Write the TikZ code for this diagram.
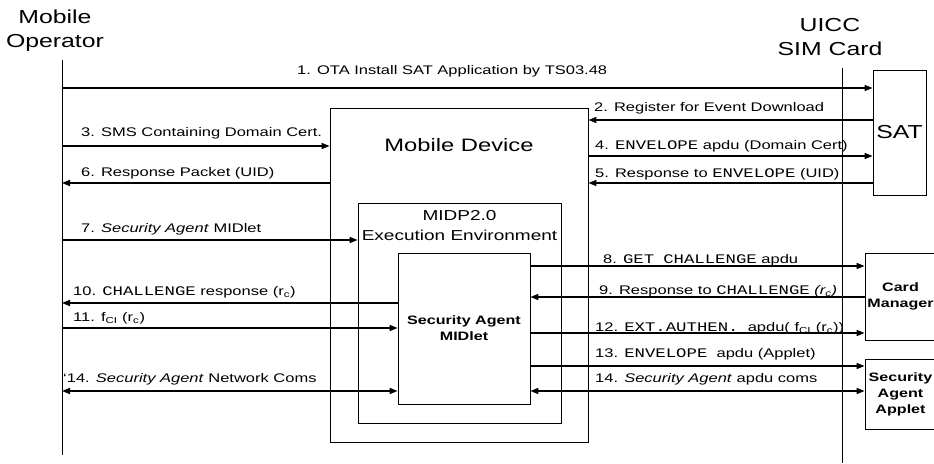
\documentclass[tikz,border=0pt]{standalone}
\usepackage{fontspec}
\setmainfont{Liberation Sans}[FakeStretch=1.32]
\setmonofont{Liberation Mono}[FakeStretch=1.32,Scale=1.05]
\usetikzlibrary{arrows.meta}

\tikzset{
  box/.style={draw,line width=0.8pt,inner sep=0pt},
  lifeline/.style={line width=0.8pt},
  msg/.style={line width=1.5pt,-{Triangle[length=8pt,width=6pt]}},
  duplex/.style={line width=1.5pt,{Triangle[length=8pt,width=6pt]}-{Triangle[length=8pt,width=6pt]}},
  lbl/.style={anchor=west,inner sep=0pt,text height=9pt,text depth=0pt,font=\fontsize{12.5}{15}\selectfont},
  bigtxt/.style={inner sep=0pt,align=center,font=\fontsize{18.8}{24}\selectfont},
  boldtxt/.style={align=center,font=\fontsize{12.2}{16}\selectfont\bfseries}
}

\begin{document}
\begin{tikzpicture}[x=1pt,y=-1pt]
\useasboundingbox (0,0) rectangle (934,463);

% the two ends of the link
\node[bigtxt] (op) at (55,31) {Mobile\\Operator};
\node[bigtxt] (uicc) at (830,37.5) {UICC\\SIM Card};
\coordinate (opl) at (62,60);
\coordinate (opend) at (62,455);
\coordinate (siml) at (842,68);
\coordinate (simend) at (842,463);
\draw[lifeline] (opl) -- (opend);
\draw[lifeline] (siml) -- (simend);

% handset, nested
\node[box,minimum width=258pt,minimum height=334pt] (dev) at (459,275) {};
\node[font=\fontsize{18}{22}\selectfont] (devlbl) at (459,145) {Mobile Device};
\node[box,minimum width=203pt,minimum height=220pt] (midp) at (459.5,313) {};
\node[align=center,inner sep=0pt,font=\fontsize{14.4}{20}\selectfont] (midplbl) at (459.5,226) {MIDP2.0\\Execution Environment};
\node[box,boldtxt,minimum width=132pt,minimum height=151pt] (sam) at (464,328.5) {Security Agent\\MIDlet};

% card side
\node[box,bigtxt,minimum width=53pt,minimum height=125pt] (sat) at (899.5,132.5) {SAT};
\node[box,boldtxt,minimum width=71pt,minimum height=87pt] (cm) at (900.5,296.5) {Card\\Manager};
\node[box,boldtxt,minimum width=71pt,minimum height=70pt] (saa) at (900.5,394) {Security\\Agent\\Applet};

% messages
\draw[msg] (opl |- 0,88) -- (sat.west |- 0,88);
\node[lbl] (l1) at (297,70) {1. OTA Install SAT Application by TS03.48};
\draw[msg] (sat.west |- 0,120) -- (dev.east |- 0,120);
\node[lbl] (l2) at (594,107) {2. Register for Event Download};
\draw[msg] (opl |- 0,146) -- (dev.west |- 0,146);
\node[lbl] (l3) at (81,132) {3. SMS Containing Domain Cert.};
\draw[msg] (dev.east |- 0,156) -- (sat.west |- 0,156);
\node[lbl] (l4) at (595,145) {4. \texttt{ENVELOPE} apdu (Domain Cert)};
\draw[msg] (sat.west |- 0,183) -- (dev.east |- 0,183);
\node[lbl] (l5) at (595,173) {5. Response to \texttt{ENVELOPE} (UID)};
\draw[msg] (dev.west |- 0,183) -- (opl |- 0,183);
\node[lbl] (l6) at (81,172) {6. Response Packet (UID)};
\draw[msg] (opl |- 0,240) -- (midp.west |- 0,240);
\node[lbl] (l7) at (81,228) {7. \textit{Security Agent} MIDlet};
\draw[msg] (sam.east |- 0,266) -- (cm.west |- 0,266);
\node[lbl] (l8) at (603,259) {8. \texttt{GET}\hspace{9pt}\texttt{CHALLENGE} apdu};
\draw[msg] (cm.west |- 0,297) -- (sam.east |- 0,297);
\node[lbl] (l9) at (599,290) {9. Response to \texttt{CHALLENGE} \textit{(r\textsubscript{c})}};
\draw[msg] (sam.west |- 0,303) -- (opl |- 0,303);
\node[lbl] (l10) at (73,291) {10. \texttt{CHALLENGE} response (r\textsubscript{c})};
\draw[msg] (opl |- 0,328) -- (sam.west |- 0,328);
\node[lbl] (l11) at (73,317) {11. f\textsubscript{CI} (r\textsubscript{c})};
\draw[msg] (sam.east |- 0,333) -- (cm.west |- 0,333);
\node[lbl] (l12) at (595,327) {12. \texttt{EXT.AUTHEN.}\ \ apdu( f\textsubscript{CI} (r\textsubscript{c}))};
\draw[msg] (sam.east |- 0,366) -- (saa.west |- 0,366);
\node[lbl] (l13) at (595,353) {13. \texttt{ENVELOPE}\ \ apdu (Applet)};
\draw[duplex] (sam.east |- 0,391) -- (saa.west |- 0,391);
\node[lbl] (l14) at (595,378) {14. \textit{Security Agent} apdu coms};
\draw[duplex] (opl |- 0,391) -- (sam.west |- 0,391);
\node[lbl] (l14n) at (63,378) {‘14. \textit{Security Agent} Network Coms};
\end{tikzpicture}
\end{document}
